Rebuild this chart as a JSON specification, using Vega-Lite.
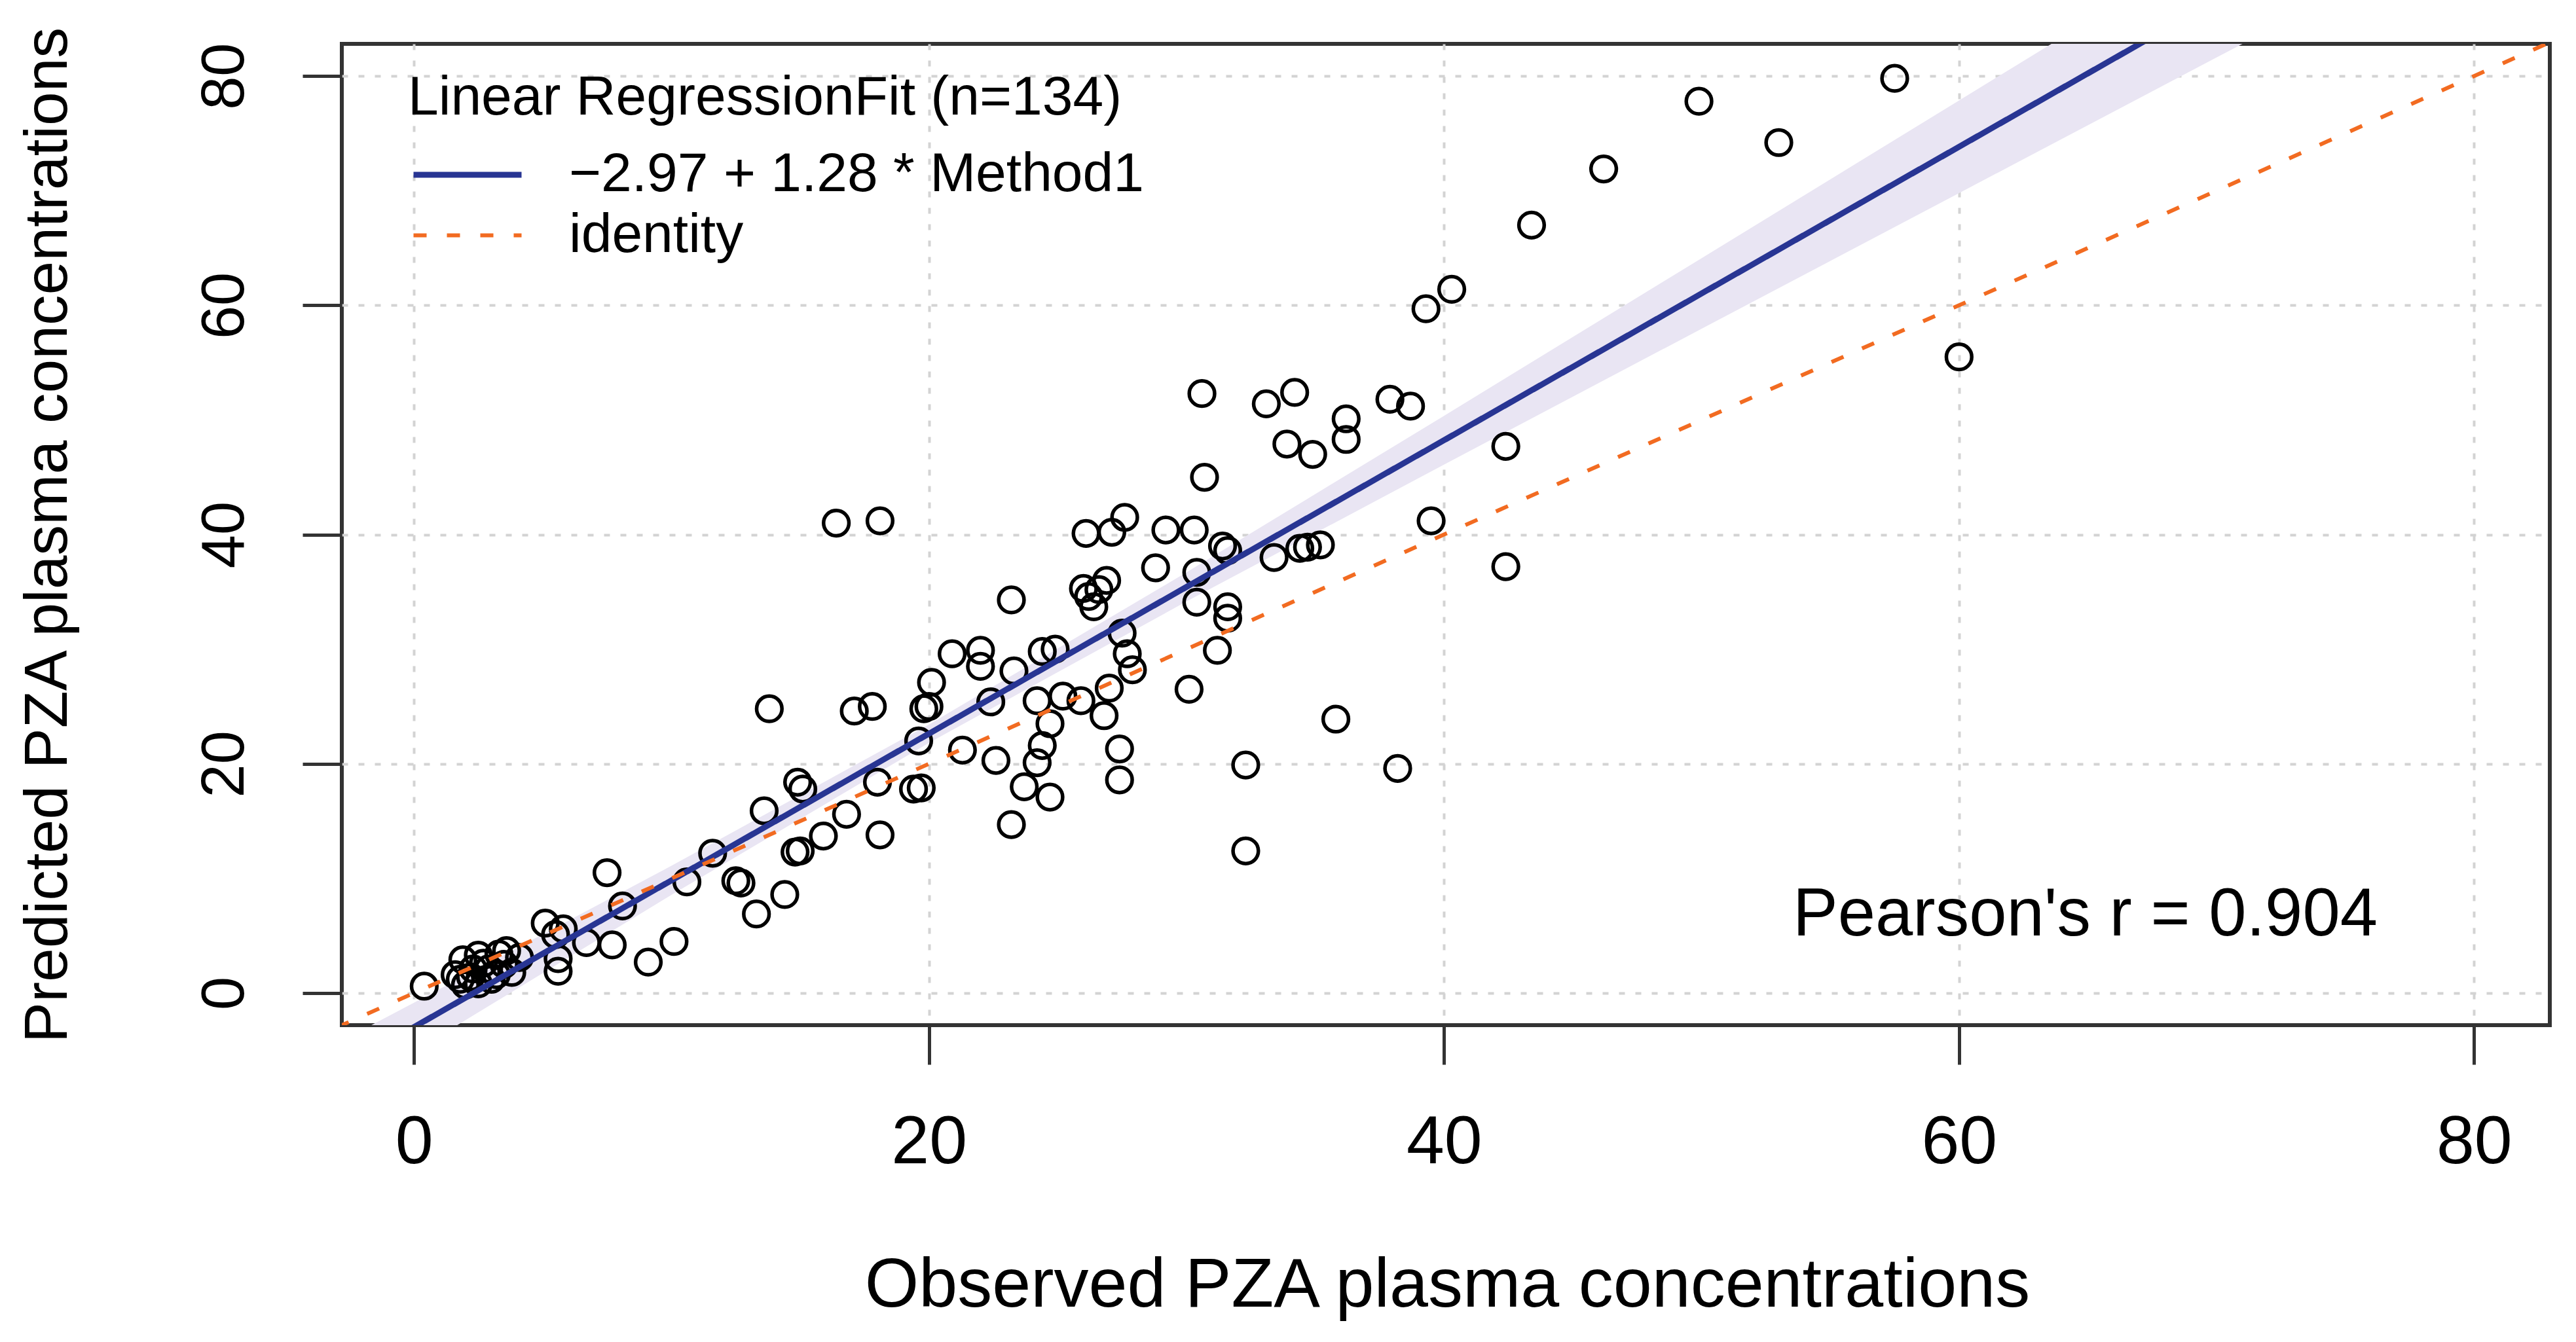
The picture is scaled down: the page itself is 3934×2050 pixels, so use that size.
{
  "$schema": "https://vega.github.io/schema/vega-lite/v6.json",
  "width": 3372,
  "height": 1499,
  "autosize": {"type": "none"},
  "padding": {"left": 522, "top": 67, "right": 40, "bottom": 484},
  "background": "white",
  "datasets": {
    "band": [
      {"x": -3, "lo": -9.22, "hi": -4.4},
      {"x": 0, "lo": -5.1, "hi": -0.84},
      {"x": 10, "lo": 8.56, "hi": 11.1},
      {"x": 20, "lo": 21.83, "hi": 23.43},
      {"x": 30, "lo": 34.16, "hi": 36.7},
      {"x": 40, "lo": 46.1, "hi": 50.36},
      {"x": 50, "lo": 57.95, "hi": 64.11},
      {"x": 60, "lo": 69.79, "hi": 77.87},
      {"x": 70, "lo": 81.62, "hi": 91.64},
      {"x": 83, "lo": 96.98, "hi": 109.56}
    ],
    "lines": [
      {"series": "−2.97 + 1.28 * Method1", "x": -3, "y": -6.81},
      {"series": "−2.97 + 1.28 * Method1", "x": 83, "y": 103.27},
      {"series": "identity", "x": -3, "y": -3},
      {"series": "identity", "x": 83, "y": 83}
    ],
    "annotation": [
      {"label": "Pearson's r = 0.904"}
    ],
    "points": [
      {"obs": 0.4, "pred": 0.6}, {"obs": 1.6, "pred": 1.6}, {"obs": 1.9, "pred": 2.9}, {"obs": 2.0, "pred": 0.7},
      {"obs": 2.2, "pred": 1.4}, {"obs": 2.5, "pred": 3.3}, {"obs": 2.5, "pred": 0.8}, {"obs": 2.9, "pred": 2.1},
      {"obs": 3.0, "pred": 1.2}, {"obs": 3.3, "pred": 3.4}, {"obs": 3.5, "pred": 2.5}, {"obs": 3.8, "pred": 1.8},
      {"obs": 4.1, "pred": 3.1}, {"obs": 2.7, "pred": 2.6}, {"obs": 3.2, "pred": 1.6}, {"obs": 5.1, "pred": 6.1},
      {"obs": 5.5, "pred": 5.1}, {"obs": 5.8, "pred": 5.6}, {"obs": 5.6, "pred": 1.9}, {"obs": 5.6, "pred": 3.0},
      {"obs": 6.7, "pred": 4.4}, {"obs": 7.5, "pred": 10.5}, {"obs": 8.1, "pred": 7.6}, {"obs": 7.7, "pred": 4.2},
      {"obs": 9.1, "pred": 2.7}, {"obs": 10.1, "pred": 4.5}, {"obs": 10.6, "pred": 9.7}, {"obs": 11.6, "pred": 12.2},
      {"obs": 12.5, "pred": 9.8}, {"obs": 12.7, "pred": 9.6}, {"obs": 13.3, "pred": 6.9}, {"obs": 14.4, "pred": 8.6},
      {"obs": 13.6, "pred": 15.9}, {"obs": 13.8, "pred": 24.8}, {"obs": 14.8, "pred": 12.3}, {"obs": 15.0, "pred": 12.4},
      {"obs": 14.9, "pred": 18.4}, {"obs": 15.1, "pred": 17.8}, {"obs": 15.9, "pred": 13.7}, {"obs": 16.8, "pred": 15.6},
      {"obs": 16.4, "pred": 41.0}, {"obs": 18.1, "pred": 41.2}, {"obs": 17.1, "pred": 24.6}, {"obs": 17.8, "pred": 25.0},
      {"obs": 18.0, "pred": 18.4}, {"obs": 18.1, "pred": 13.8}, {"obs": 19.4, "pred": 17.8}, {"obs": 19.7, "pred": 17.9},
      {"obs": 19.6, "pred": 22.0}, {"obs": 19.8, "pred": 24.8}, {"obs": 20.0, "pred": 25.0}, {"obs": 20.1, "pred": 27.1},
      {"obs": 20.9, "pred": 29.6}, {"obs": 21.3, "pred": 21.2}, {"obs": 22.0, "pred": 29.9}, {"obs": 22.0, "pred": 28.5},
      {"obs": 22.4, "pred": 25.4}, {"obs": 22.6, "pred": 20.3}, {"obs": 23.2, "pred": 34.3}, {"obs": 23.3, "pred": 28.1},
      {"obs": 23.2, "pred": 14.7}, {"obs": 23.7, "pred": 18.0}, {"obs": 24.2, "pred": 20.1}, {"obs": 24.4, "pred": 21.6},
      {"obs": 24.7, "pred": 23.5}, {"obs": 24.7, "pred": 17.1}, {"obs": 24.4, "pred": 29.8}, {"obs": 24.9, "pred": 30.0},
      {"obs": 24.2, "pred": 25.5}, {"obs": 25.2, "pred": 25.9}, {"obs": 25.9, "pred": 25.5}, {"obs": 26.0, "pred": 35.3},
      {"obs": 26.1, "pred": 40.1}, {"obs": 26.4, "pred": 33.7}, {"obs": 26.2, "pred": 34.6}, {"obs": 26.9, "pred": 36.0},
      {"obs": 26.8, "pred": 24.2}, {"obs": 27.0, "pred": 26.6}, {"obs": 27.1, "pred": 40.2}, {"obs": 27.6, "pred": 41.5},
      {"obs": 27.4, "pred": 21.3}, {"obs": 27.4, "pred": 18.6}, {"obs": 27.5, "pred": 31.4}, {"obs": 27.7, "pred": 29.6},
      {"obs": 27.9, "pred": 28.2}, {"obs": 28.8, "pred": 37.1}, {"obs": 29.2, "pred": 40.4}, {"obs": 30.1, "pred": 26.5},
      {"obs": 30.3, "pred": 40.4}, {"obs": 30.4, "pred": 36.7}, {"obs": 30.4, "pred": 34.1}, {"obs": 30.6, "pred": 52.3},
      {"obs": 30.7, "pred": 45.0}, {"obs": 31.2, "pred": 29.9}, {"obs": 31.4, "pred": 39.0}, {"obs": 31.6, "pred": 38.6},
      {"obs": 31.6, "pred": 33.7}, {"obs": 31.6, "pred": 32.7}, {"obs": 32.3, "pred": 19.9}, {"obs": 32.3, "pred": 12.4},
      {"obs": 33.1, "pred": 51.4}, {"obs": 33.4, "pred": 38.0}, {"obs": 33.9, "pred": 47.9}, {"obs": 34.2, "pred": 52.4},
      {"obs": 34.4, "pred": 38.8}, {"obs": 34.7, "pred": 38.9}, {"obs": 35.2, "pred": 39.1}, {"obs": 34.9, "pred": 47.0},
      {"obs": 35.8, "pred": 23.9}, {"obs": 36.2, "pred": 50.1}, {"obs": 36.2, "pred": 48.3}, {"obs": 37.9, "pred": 51.8},
      {"obs": 38.7, "pred": 51.2}, {"obs": 38.2, "pred": 19.6}, {"obs": 39.3, "pred": 59.7}, {"obs": 39.5, "pred": 41.2},
      {"obs": 40.3, "pred": 61.4}, {"obs": 42.4, "pred": 47.7}, {"obs": 42.4, "pred": 37.2}, {"obs": 43.4, "pred": 67.0},
      {"obs": 46.2, "pred": 71.9}, {"obs": 49.9, "pred": 77.8}, {"obs": 53.0, "pred": 74.2}, {"obs": 57.5, "pred": 79.8},
      {"obs": 60.0, "pred": 55.5}, {"obs": 2.3, "pred": 2.1}, {"obs": 3.6, "pred": 3.7}, {"obs": 1.8, "pred": 1.2},
      {"obs": 26.6, "pred": 35.2}
    ]
  },
  "layer": [
    {
      "data": {"name": "band"},
      "mark": {"type": "area", "color": "#E9E5F3", "clip": true},
      "encoding": {
        "x": {"field": "x", "type": "quantitative", "scale": {"domain": [-2.8, 82.94], "nice": false, "zero": false},
          "axis": {"values": [0, 20, 40, 60, 80], "title": "Observed PZA plasma concentrations", "labelAngle": 0,
            "labelFontSize": 104, "labelPadding": 68, "titleFontSize": 106,
            "titleBaseline": "alphabetic", "titleX": 1688, "titleY": 429}},
        "y": {"field": "lo", "type": "quantitative", "scale": {"domain": [-2.8, 82.81], "nice": false, "zero": false},
          "axis": {"values": [0, 20, 40, 60, 80], "title": "Predicted PZA plasma concentrations", "labelAngle": -90,
            "labelAlign": "center", "labelBaseline": "alphabetic", "labelPadding": 91, "labelFontSize": 92,
            "titleFontSize": 93, "titleAngle": -90, "titleBaseline": "alphabetic", "titleAlign": "center",
            "titleX": -421, "titleY": 750}},
        "y2": {"field": "hi"}
      }
    },
    {
      "data": {"name": "points"},
      "mark": {"type": "point", "shape": "circle", "filled": false, "stroke": "#000000", "strokeWidth": 5.5, "size": 1500, "opacity": 1},
      "encoding": {
        "x": {"field": "obs", "type": "quantitative"},
        "y": {"field": "pred", "type": "quantitative"}
      }
    },
    {
      "data": {"name": "lines"},
      "mark": {"type": "line", "clip": true},
      "encoding": {
        "x": {"field": "x", "type": "quantitative"},
        "y": {"field": "y", "type": "quantitative"},
        "color": {"field": "series", "type": "nominal",
          "scale": {"domain": ["−2.97 + 1.28 * Method1", "identity"], "range": ["#283593", "#F26B21"]},
          "legend": {"title": "Linear RegressionFit (n=134)"}},
        "strokeDash": {"field": "series", "type": "nominal",
          "scale": {"domain": ["−2.97 + 1.28 * Method1", "identity"], "range": [[1, 0], [20, 31]]},
          "legend": {"title": "Linear RegressionFit (n=134)"}},
        "strokeWidth": {"field": "series", "type": "nominal",
          "scale": {"domain": ["−2.97 + 1.28 * Method1", "identity"], "range": [9, 6]}, "legend": null},
        "order": {"field": "x", "type": "quantitative"}
      }
    },
    {
      "data": {"name": "annotation"},
      "mark": {"type": "text", "font": "Liberation Sans", "fontSize": 103,
        "align": "center", "baseline": "alphabetic", "color": "#000000"},
      "encoding": {
        "x": {"datum": 64.9, "type": "quantitative"},
        "y": {"datum": 5.0, "type": "quantitative"},
        "text": {"field": "label", "type": "nominal"}
      }
    }
  ],
  "config": {
    "view": {"stroke": "#333333", "strokeWidth": 6},
    "font": "Liberation Sans",
    "axis": {
      "domain": false,
      "tickColor": "#333333",
      "tickWidth": 5,
      "tickSize": 60,
      "labelFont": "Liberation Sans",
      "labelColor": "#000000",
      "titleFont": "Liberation Sans",
      "titleFontWeight": "normal",
      "titleColor": "#000000",
      "grid": true,
      "gridColor": "#D3D3D3",
      "gridDash": [9, 16],
      "gridWidth": 4
    },
    "legend": {
      "orient": "none",
      "legendX": 101,
      "legendY": 42,
      "padding": 0,
      "titleFont": "Liberation Sans",
      "labelFont": "Liberation Sans",
      "titleFontSize": 84,
      "labelFontSize": 84,
      "titleFontWeight": "normal",
      "titleColor": "#000000",
      "labelColor": "#000000",
      "symbolType": "M-2,0H2",
      "symbolSize": 6806,
      "symbolStrokeWidth": 8,
      "symbolOffset": 45,
      "labelOffset": 109,
      "titlePadding": 28,
      "rowPadding": 6,
      "titleLimit": 3000,
      "labelLimit": 3000
    }
  }
}
